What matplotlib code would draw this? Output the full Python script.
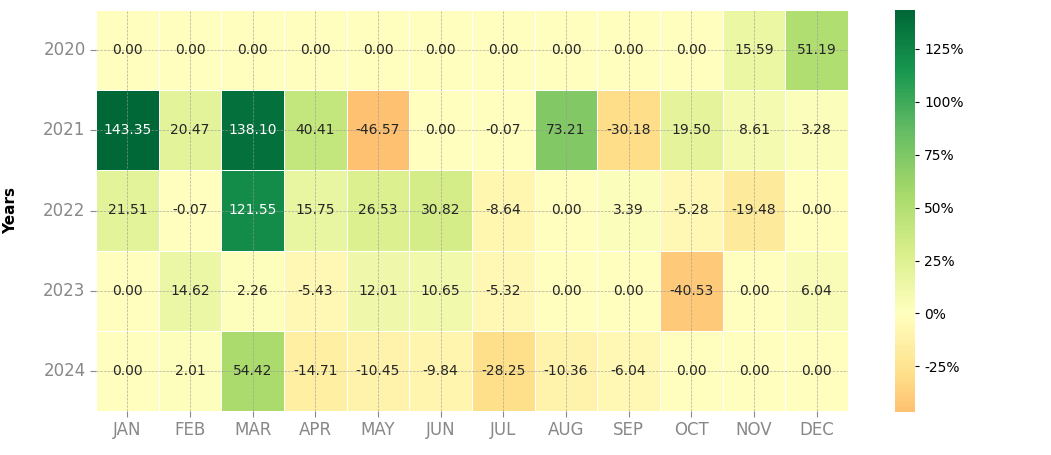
import numpy as np
import pandas as pd
import matplotlib
matplotlib.use('Agg')
import matplotlib.pyplot as plt
import matplotlib.ticker as mticker
import seaborn as sns

years = ['2020', '2021', '2022', '2023', '2024']
months = ['JAN', 'FEB', 'MAR', 'APR', 'MAY', 'JUN',
          'JUL', 'AUG', 'SEP', 'OCT', 'NOV', 'DEC']

r2020 = [0.00, 0.00, 0.00, 0.00, 0.00, 0.00, 0.00, 0.00, 0.00, 0.00, 15.59, 51.19]
r2021 = [143.35, 20.47, 138.10, 40.41, -46.57, 0.00, -0.07, 73.21, -30.18, 19.50, 8.61, 3.28]
r2022 = [21.51, -0.07, 121.55, 15.75, 26.53, 30.82, -8.64, 0.00, 3.39, -5.28, -19.48, 0.00]
r2023 = [0.00, 14.62, 2.26, -5.43, 12.01, 10.65, -5.32, 0.00, 0.00, -40.53, 0.00, 6.04]
r2024 = [0.00, 2.01, 54.42, -14.71, -10.45, -9.84, -28.25, -10.36, -6.04, 0.00, 0.00, 0.00]

returns = pd.DataFrame([r2020, r2021, r2022, r2023, r2024], index=years, columns=months)

fig = plt.figure(figsize=(10.51, 4.55), dpi=100)
ax = fig.add_axes([96 / 1051, 1 - 411 / 455, 752 / 1051, 401 / 455])
cax = fig.add_axes([895 / 1051, 1 - 412 / 455, 20 / 1051, 402 / 455])

sns.heatmap(returns, ax=ax, cbar_ax=cax, cmap='RdYlGn', center=0,
            annot=True, fmt='.2f', annot_kws={'size': 10},
            linewidths=0.6, linecolor='white',
            cbar_kws={'format': mticker.FuncFormatter(lambda v, p: '%d%%' % v)})

# dashed grid over the cells, through the tick positions
ax.set_axisbelow(False)
ax.grid(True, linestyle='--', color='#999999', linewidth=0.5, alpha=0.8)

ax.set_xlabel('')
ax.set_ylabel('Years', fontsize=11, fontweight='bold', labelpad=18)
ax.tick_params(axis='both', colors='#888888', labelsize=12, length=4, width=0.8)
plt.setp(ax.get_yticklabels(), rotation=0)
plt.setp(ax.get_xticklabels(), rotation=0)

cax.yaxis.set_major_locator(mticker.MultipleLocator(25))
cax.tick_params(labelsize=10, length=3)
cax.set_frame_on(False)

fig.savefig('out.png', dpi=100)
